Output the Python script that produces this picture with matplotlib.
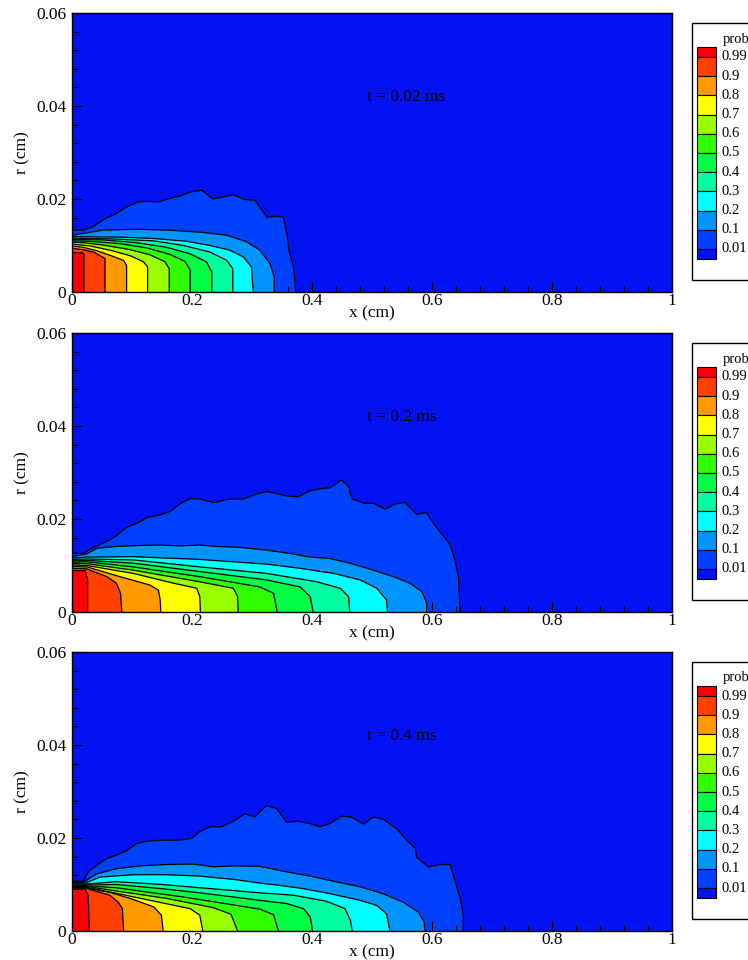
# Probability contours at three times
import matplotlib.pyplot as plt
from matplotlib.patches import Rectangle
from matplotlib.ticker import MultipleLocator

plt.rcParams['font.family'] = ['Liberation Serif', 'DejaVu Serif']

levels = [0.01, 0.1, 0.2, 0.3, 0.4, 0.5, 0.6, 0.7, 0.8, 0.9, 0.99]
level_labels = ['0.01', '0.1', '0.2', '0.3', '0.4', '0.5', '0.6', '0.7', '0.8', '0.9', '0.99']
# band below 0.01 first, band above 0.99 last
band_colors = ['#0212F2', '#0040FF', '#0094FF', '#00FFFF', '#00FFA0', '#00FF44',
               '#30FF00', '#99FF00', '#FFFF00', '#FF9900', '#FF4000', '#FF0000']
times = ['t = 0.02 ms', 't = 0.2 ms', 't = 0.4 ms']

# contour lines (x cm, r cm), from the axis x=0 down to r=0, level 0.01 -> 0.99
t1_lines = [
    [(0, .0133), (.019, .0133), (.036, .0141), (.055, .0158), (.072, .0167), (.091, .0183),
     (.108, .0193), (.125, .0195), (.144, .0194), (.163, .0201), (.183, .0208), (.197, .0215),
     (.216, .0219), (.235, .0200), (.269, .0209), (.288, .0199), (.305, .0197), (.325, .0161),
     (.341, .0163), (.352, .0161), (.358, .0126), (.361, .0093), (.369, .0054), (.373, 0)],
    [(0, .0122), (.052, .0133), (.108, .0135), (.163, .0133), (.219, .0128), (.258, .0122),
     (.291, .0108), (.313, .0090), (.330, .0061), (.337, .0032), (.337, 0)],
    [(0, .0119), (.080, .0118), (.136, .0115), (.191, .0109), (.230, .0100), (.263, .0090),
     (.286, .0075), (.299, .0054), (.302, 0)],
    [(0, .0116), (.069, .0114), (.136, .0110), (.186, .0100), (.230, .0086), (.258, .0068),
     (.268, .0050), (.268, 0)],
    [(0, .0113), (.052, .0112), (.108, .0106), (.158, .0096), (.197, .0082), (.224, .0065),
     (.233, .0043), (.233, 0)],
    [(0, .0110), (.030, .0109), (.080, .0104), (.124, .0095), (.163, .0081), (.188, .0066),
     (.197, .0047), (.197, 0)],
    [(0, .0107), (.019, .0106), (.052, .0101), (.097, .0091), (.130, .0080), (.155, .0065),
     (.162, .0050), (.162, 0)],
    [(0, .0103), (.030, .0099), (.063, .0090), (.097, .0078), (.119, .0065), (.126, .0054),
     (.126, 0)],
    [(0, .0099), (.019, .0096), (.041, .0089), (.063, .0079), (.086, .0068), (.091, .0057),
     (.091, 0)],
    [(0, .0094), (.019, .0091), (.036, .0086), (.055, .0072), (.055, 0)],
    [(0, .0085), (.018, .0084), (.020, .0080), (.020, 0)],
]

t2_lines = [
    [(0, .0126), (.019, .0126), (.036, .0139), (.055, .0150), (.072, .0162), (.091, .0182),
     (.108, .0191), (.127, .0204), (.147, .0209), (.163, .0216), (.183, .0235), (.197, .0244),
     (.213, .0243), (.236, .0235), (.258, .0242), (.286, .0243), (.308, .0254), (.324, .0259),
     (.341, .0255), (.358, .0249), (.377, .0248), (.397, .0261), (.413, .0265), (.430, .0267),
     (.449, .0284), (.461, .0270), (.466, .0244), (.486, .0234), (.502, .0234), (.522, .0221),
     (.538, .0232), (.555, .0236), (.574, .0210), (.591, .0214), (.597, .0201), (.611, .0176),
     (.630, .0146), (.638, .0112), (.644, .0076), (.647, 0)],
    [(0, .0119), (.025, .0125), (.041, .0137), (.074, .0141), (.113, .0143), (.147, .0144),
     (.180, .0142), (.213, .0144), (.241, .0141), (.280, .0139), (.324, .0133), (.363, .0126),
     (.397, .0118), (.430, .0115), (.463, .0105), (.502, .0090), (.536, .0076), (.563, .0062),
     (.583, .0044), (.591, .0020), (.591, 0)],
    [(0, .0116), (.025, .0118), (.102, .0119), (.213, .0113), (.324, .0103), (.380, .0094),
     (.436, .0083), (.480, .0069), (.508, .0051), (.524, .0026), (.526, 0)],
    [(0, .0113), (.025, .0114), (.102, .0112), (.213, .0097), (.324, .0083), (.408, .0065),
     (.447, .0051), (.461, .0033), (.463, 0)],
    [(0, .0110), (.025, .0111), (.102, .0105), (.213, .0087), (.324, .0069), (.380, .0054),
     (.397, .0033), (.402, 0)],
    [(0, .0107), (.025, .0108), (.102, .0097), (.213, .0076), (.313, .0054), (.336, .0040),
     (.342, 0)],
    [(0, .0104), (.025, .0104), (.102, .0090), (.213, .0065), (.269, .0051), (.276, .0033),
     (.277, 0)],
    [(0, .0101), (.025, .0100), (.102, .0083), (.169, .0062), (.208, .0051), (.213, .0033),
     (.214, 0)],
    [(0, .0098), (.025, .0097), (.080, .0076), (.130, .0058), (.144, .0047), (.147, .0026),
     (.148, 0)],
    [(0, .0094), (.024, .0093), (.058, .0076), (.074, .0062), (.081, .0040), (.083, 0)],
    [(0, .0089), (.022, .0089), (.026, .0069), (.026, 0)],
]

t3_lines = [
    [(0, .0107), (.019, .0107), (.027, .0127), (.041, .0141), (.058, .0156), (.074, .0163),
     (.091, .0173), (.108, .0188), (.124, .0193), (.144, .0195), (.163, .0195), (.183, .0196),
     (.199, .0199), (.213, .0214), (.230, .0224), (.249, .0224), (.269, .0236), (.288, .0252),
     (.305, .0245), (.313, .0256), (.324, .0270), (.341, .0263), (.358, .0234), (.377, .0236),
     (.397, .0231), (.413, .0224), (.430, .0231), (.449, .0247), (.466, .0245), (.486, .0230),
     (.502, .0245), (.519, .0240), (.541, .0220), (.558, .0195), (.572, .0178), (.574, .0159),
     (.594, .0138), (.613, .0143), (.630, .0143), (.638, .0109), (.647, .0070), (.652, .0034),
     (.652, 0)],
    [(0, .0105), (.019, .0105), (.041, .0123), (.074, .0134), (.113, .0140), (.158, .0143),
     (.202, .0144), (.236, .0138), (.269, .0140), (.313, .0139), (.358, .0127), (.397, .0118),
     (.436, .0107), (.480, .0095), (.519, .0080), (.552, .0062), (.577, .0041), (.587, .0019),
     (.588, 0)],
    [(0, .0103), (.022, .0103), (.047, .0116), (.102, .0121), (.158, .0121), (.213, .0118),
     (.269, .0111), (.313, .0103), (.347, .0098), (.386, .0091), (.431, .0080), (.480, .0066),
     (.508, .0055), (.524, .0037), (.530, 0)],
    [(0, .0101), (.024, .0101), (.074, .0106), (.150, .0100), (.213, .0093), (.270, .0087),
     (.313, .0082), (.369, .0077), (.424, .0064), (.455, .0048), (.464, .0023), (.467, 0)],
    [(0, .0099), (.024, .0099), (.074, .0100), (.150, .0091), (.213, .0082), (.270, .0073),
     (.313, .0066), (.358, .0059), (.386, .0048), (.397, .0030), (.401, 0)],
    [(0, .0097), (.024, .0097), (.074, .0093), (.186, .0073), (.260, .0058), (.313, .0047),
     (.336, .0035), (.344, 0)],
    [(0, .0096), (.024, .0096), (.074, .0086), (.158, .0070), (.236, .0050), (.265, .0036),
     (.276, 0)],
    [(0, .0094), (.024, .0094), (.074, .0081), (.130, .0066), (.197, .0048), (.213, .0034),
     (.218, 0)],
    [(0, .0093), (.024, .0093), (.063, .0083), (.097, .0070), (.136, .0052), (.149, .0034),
     (.152, 0)],
    [(0, .0092), (.024, .0092), (.036, .0087), (.063, .0077), (.077, .0062), (.084, .0048),
     (.086, 0)],
    [(0, .0090), (.022, .0090), (.027, .0077), (.029, 0)],
]

panels = [t1_lines, t2_lines, t3_lines]

W, H = 748, 960
fig = plt.figure(figsize=(W / 100, H / 100), dpi=100)

ax_tops = [13, 333, 652]
ax_h = 279

for k, lines in enumerate(panels):
    top = ax_tops[k]
    ax = fig.add_axes([72 / W, 1 - (top + ax_h) / H, 600 / W, ax_h / H])
    ax.set_facecolor(band_colors[0])
    for i, pts in enumerate(lines):
        xs = [0] + [p[0] for p in pts]
        rs = [0] + [p[1] for p in pts]
        ax.fill(xs, rs, color=band_colors[i + 1], lw=0, zorder=1 + i)
    for pts in lines:
        ax.plot([p[0] for p in pts], [p[1] for p in pts], color='black', lw=0.9, zorder=20)
    ax.set_xlim(0, 1)
    ax.set_ylim(0, 0.06)
    ax.set_xticks([0, 0.2, 0.4, 0.6, 0.8, 1])
    ax.set_xticklabels(['0', '0.2', '0.4', '0.6', '0.8', '1'])
    ax.set_yticks([0, 0.02, 0.04, 0.06])
    ax.set_yticklabels(['0', '0.02', '0.04', '0.06'])
    ax.xaxis.set_minor_locator(MultipleLocator(0.04))
    ax.yaxis.set_minor_locator(MultipleLocator(0.004))
    ax.tick_params(which='both', direction='in', labelsize=12.5, zorder=30)
    ax.tick_params(which='major', length=7, width=0.8)
    ax.tick_params(which='minor', length=4, width=0.8)
    ax.tick_params(axis='x', pad=1)
    ax.tick_params(axis='y', pad=4)
    for s in ax.spines.values():
        s.set_linewidth(1.0)
        s.set_zorder(40)
    ax.set_xlabel('x (cm)', fontsize=12.5, labelpad=-3)
    ax.set_ylabel('r (cm)', fontsize=12.5, labelpad=4)
    ax.text(0.492, 0.0419, times[k], fontsize=12.5, ha='left', va='center', zorder=50)

    # legend box, drawn in pixel units
    off = [0, 320, 639][k]
    lg = fig.add_axes([0, 0, 1, 1], zorder=60)
    lg.set_xlim(0, W)
    lg.set_ylim(H, 0)
    lg.axis('off')
    lg.add_patch(Rectangle((692.5, 22.5 + off), 80, 257.5, fill=False, ec='black', lw=1.0))
    bnd = [57 + 19.2 * j + off for j in range(11)]  # boundary y for 0.99 ... 0.01
    sw_x, sw_w = 697, 19
    # top band (> 0.99)
    lg.add_patch(Rectangle((sw_x, 46.5 + off), sw_w, bnd[0] - 46.5 - off,
                           fc=band_colors[-1], ec='black', lw=0.8))
    for j in range(10):
        lg.add_patch(Rectangle((sw_x, bnd[j]), sw_w, bnd[j + 1] - bnd[j],
                               fc=band_colors[10 - j], ec='black', lw=0.8))
    lg.add_patch(Rectangle((sw_x, bnd[10]), sw_w, 9.5,
                           fc=band_colors[0], ec='black', lw=0.8))
    lg.text(723, 39 + off, 'prob', fontsize=10.5, ha='left', va='center')
    for j in range(11):
        lg.text(722, bnd[j], level_labels[10 - j], fontsize=10.5, ha='left', va='center')

fig.savefig('out.png', dpi=100)
